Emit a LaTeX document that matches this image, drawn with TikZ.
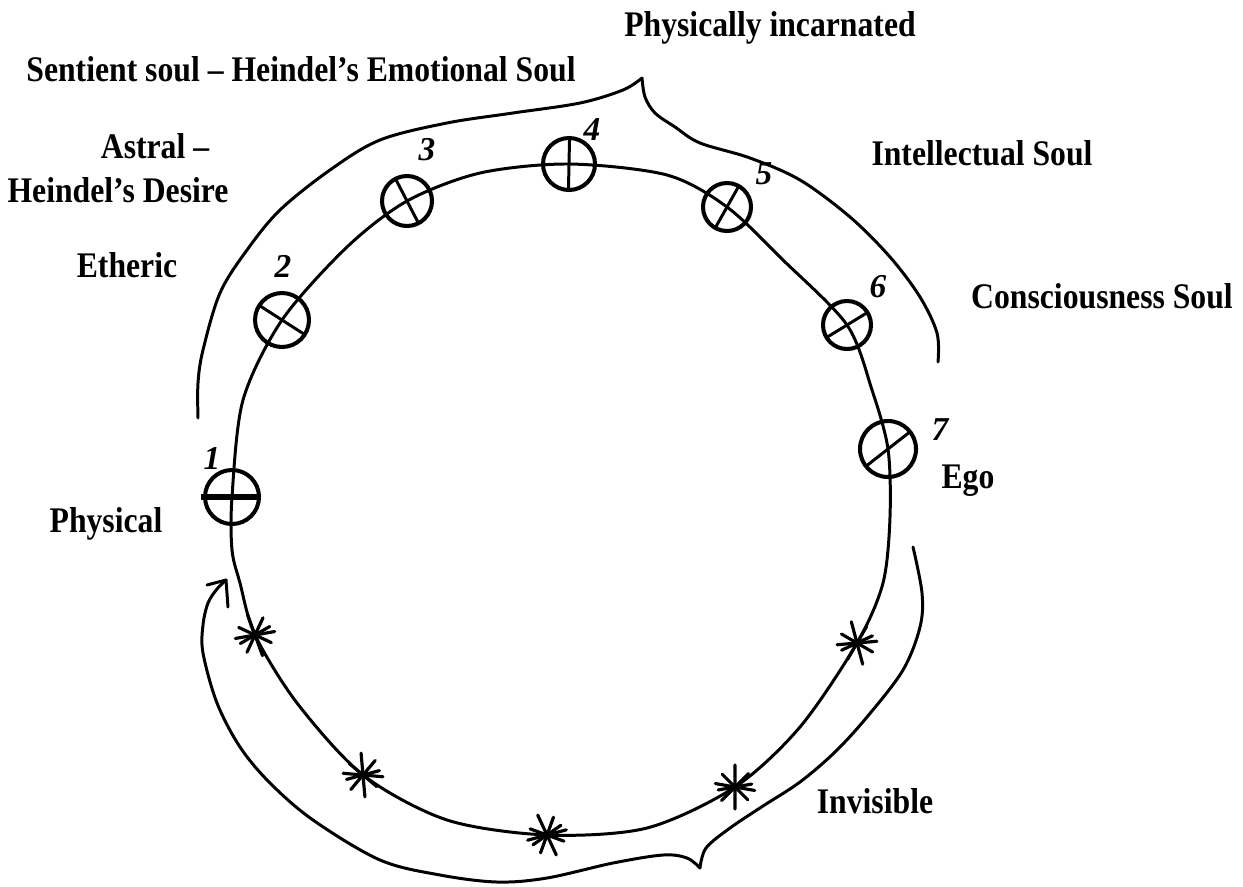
\documentclass[tikz,border=0pt]{standalone}
\usepackage{fontspec}
\setmainfont{Liberation Serif}
\newfontfamily\lblfont[FakeStretch=0.88]{Liberation Serif}
\usetikzlibrary{calc}
\tikzset{
  lbl/.style={font=\lblfont\fontsize{20.5}{24}\selectfont\bfseries, inner sep=0pt, anchor=base},
  num/.style={font=\fontsize{19}{22}\selectfont\bfseries\itshape, inner sep=0pt},
  ln/.style={line width=1.7pt, line cap=round, line join=round},
  symc/.style={line width=2.3pt},
  astpic/.pic={
    \foreach \a/\r in {0/20,35/18,80/22,125/19,160/17}
      \draw[line width=1.8pt, line cap=round] (\a:-\r) -- (\a:\r);
  }
}
\begin{document}
\begin{tikzpicture}[x=0.02cm, y=-0.02cm]
\useasboundingbox (0,0) rectangle (1243,886);

% symbol centres
\coordinate (s1) at (232,497);
\coordinate (s2) at (282,320);
\coordinate (s3) at (407,201);
\coordinate (s4) at (569,164);
\coordinate (s5) at (727,207);
\coordinate (s6) at (847,325);
\coordinate (s7) at (888,449);
% star centres
\coordinate (t1) at (255,635);
\coordinate (t2) at (363,775);
\coordinate (t3) at (547,835);
\coordinate (t4) at (735,787);
\coordinate (t5) at (857,643);

% main circle
\draw[ln] plot[smooth cycle, tension=0.5] coordinates {
  (232,497) (243,400) (282,320) (347,247) (407,201) (480,173) (569,164)
  (667,175) (727,207) (783,260) (847,325) (872,390) (888,449) (890,517)
  (883,583) (857,643) (800,727) (735,787) (647,828) (547,835) (447,820)
  (363,775) (297,703) (255,635) (240,583) (232,550)};

% upper brace
\coordinate (bcusp) at (642,78);
\draw[ln] plot[smooth, tension=0.55] coordinates {
  (198,418) (198,383) (203,350) (220,293) (247,250) (280,210) (330,170)
  (380,140) (447,123) (513,113) (580,103) (623,90) (642,78)};
\draw[ln] plot[smooth, tension=0.55] coordinates {
  (642,78) (645,97) (655,113) (675,127) (700,143) (750,158) (800,180)
  (850,217) (890,257) (920,297) (937,333) (938,362)};

% lower brace with arrow
\coordinate (atip) at (226,580);
\draw[ln] plot[smooth, tension=0.55] coordinates {
  (700,868) (687,858) (663,855) (613,863) (547,878) (497,882) (440,875)
  (380,860) (313,820) (270,783) (240,747) (217,703) (203,653) (203,625)
  (208,603) (217,589) (226,580)};
\draw[ln] (atip) -- (207,585);
\draw[ln] (atip) -- (228,607);
\draw[ln] plot[smooth, tension=0.55] coordinates {
  (700,868) (706,848) (730,828) (763,806) (800,782) (835,752) (867,717)
  (903,670) (920,627) (922,593) (913,547)};

% symbols
\draw[symc] (s1) circle[radius=27];
\draw[line width=3pt] ($(s1)+(180:31)$) -- ($(s1)+(0:27)$);
\draw[symc] (s2) circle[radius=27];
\draw[ln] ($(s2)+(212.7:27)$) -- ($(s2)+(32.7:27)$);
\draw[symc] (s3) circle[radius=25];
\draw[ln] ($(s3)+(242.6:25)$) -- ($(s3)+(62.6:25)$);
\draw[symc] (s4) circle[radius=26];
\draw[ln] ($(s4)+(271.2:26)$) -- ($(s4)+(91.2:26)$);
\draw[symc] (s5) circle[radius=24];
\draw[ln] ($(s5)+(-60.6:24)$) -- ($(s5)+(119.4:24)$);
\draw[symc] (s6) circle[radius=24];
\draw[ln] ($(s6)+(-31.5:24)$) -- ($(s6)+(148.5:24)$);
\draw[symc] (s7) circle[radius=28];
\draw[ln] ($(s7)+(-38:28)$) -- ($(s7)+(142:28)$);

% stars
\pic[rotate=10] at (t1) {astpic};
\pic[rotate=-5] at (t2) {astpic};
\pic[rotate=15] at (t3) {astpic};
\pic[rotate=-10] at (t4) {astpic};
\pic[rotate=5] at (t5) {astpic};

% numbers
\node[num] (n1) at (212,458) {1};
\node[num] (n2) at (283,266) {2};
\node[num] (n3) at (427,150) {3};
\node[num] (n4) at (592,130) {4};
\node[num] (n5) at (764,174) {5};
\node[num] (n6) at (878,287) {6};
\node[num] (n7) at (940,430) {7};

% labels
\node[lbl] (lpi) at (770,36) {Physically incarnated};
\node[lbl] (lss) at (301,81) {Sentient soul – Heindel’s Emotional Soul};
\node[lbl] (las) at (155,158) {Astral –};
\node[lbl] (lhd) at (118,202) {Heindel’s Desire};
\node[lbl] (lis) at (982,165) {Intellectual Soul};
\node[lbl] (let) at (127,277) {Etheric};
\node[lbl] (lcs) at (1102,308) {Consciousness Soul};
\node[lbl] (leg) at (968,488) {Ego};
\node[lbl] (lph) at (106,532) {Physical};
\node[lbl] (lin) at (875,813) {Invisible};
\end{tikzpicture}
\end{document}
